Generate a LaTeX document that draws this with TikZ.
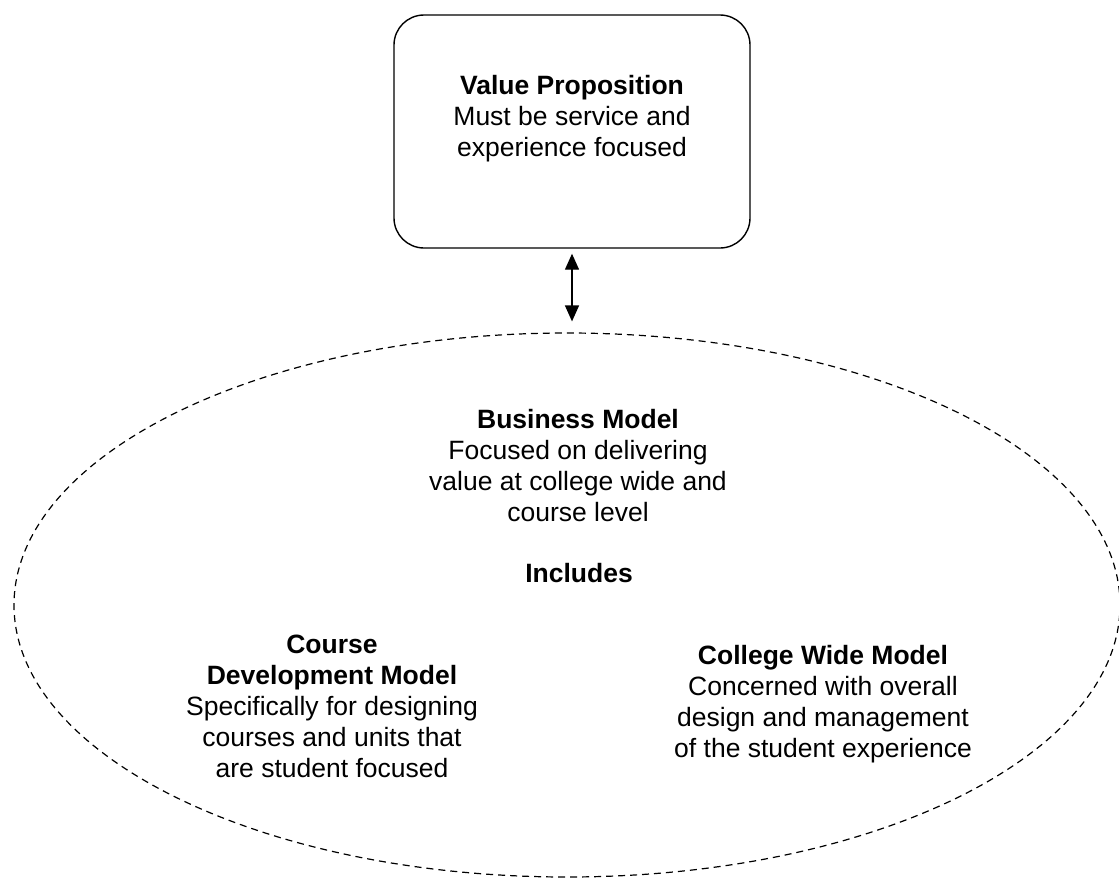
\documentclass[tikz,border=0pt]{standalone}
\usepackage{fontspec}
\setmainfont{Liberation Sans}
\usetikzlibrary{arrows.meta,shapes.geometric}
\begin{document}
\begin{tikzpicture}[x=1pt,y=-1pt,
  label text/.style={font=\fontsize{26.5}{31}\selectfont, align=center, inner sep=0pt},
  framebox/.style={draw, line width=1.4pt, rounded corners=30pt, inner sep=0pt},
  outline/.style={ellipse, draw, line width=1.2pt, dash pattern=on 7pt off 5pt, inner sep=0pt},
  link/.style={line width=1.4pt, {Triangle[length=16pt,width=14pt]}-{Triangle[length=16pt,width=14pt]}}]
  \useasboundingbox (0,0) rectangle (1119,879);

  % value proposition box
  \node[framebox, minimum width=356pt, minimum height=233pt] (vp) at (572,131.5) {};
  \node[label text] (vptext) at (572,119) {\textbf{Value Proposition}\\Must be service and\\experience focused};

  % business model outline
  \node[outline, minimum width=1106pt, minimum height=544pt] (bm) at (567,605) {};
  \node[label text] (bmtext) at (578,466) {\textbf{Business Model}\\Focused on delivering\\value at college wide and\\course level};
  \node[label text] (inc) at (579,573) {\textbf{Includes}};
  \node[label text] (cdm) at (332,706) {\textbf{Course}\\\textbf{Development Model}\\Specifically for designing\\courses and units that\\are student focused};
  \node[label text] (cwm) at (823,704.5) {\textbf{College Wide Model}\\Concerned with overall\\design and management\\of the student experience};

  % two-way link between the box and the outline
  \draw[link, shorten <=5pt, shorten >=11pt] (vp.south) -- (vp.south |- bm.north);
\end{tikzpicture}
\end{document}
